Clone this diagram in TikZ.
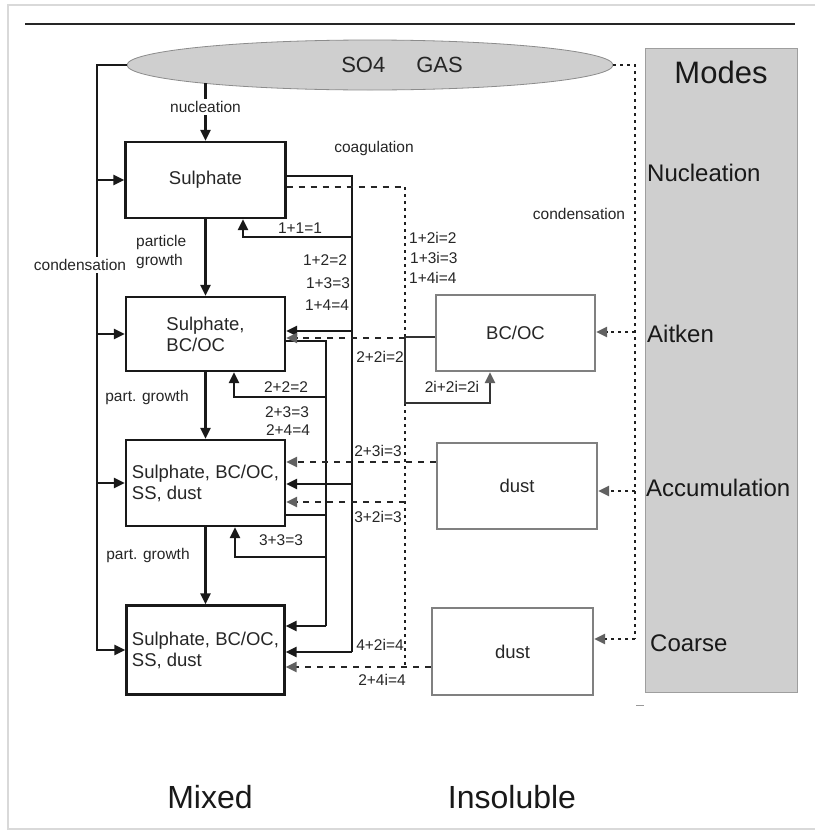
\documentclass[tikz,border=0pt]{standalone}
\usepackage{fontspec}
\setmainfont{Liberation Sans}
\usetikzlibrary{arrows.meta,shapes.geometric}
\begin{document}
\begin{tikzpicture}[x=1pt,y=-1pt,
  ln/.style={line width=2.2pt, draw=black!90},
  arr/.style={ln, -{Triangle[length=11pt,width=10pt]}},
  garr/.style={-{Triangle[length=11pt,width=10pt,color=black!62]}},
  dsh/.style={line width=2.2pt, draw=black!85, dash pattern=on 6pt off 6pt},
  dtt/.style={line width=2.4pt, draw=black!88, dash pattern=on 3pt off 4pt},
  mbox/.style={draw=black!90, line width=2.2pt, inner sep=0pt, align=left,
    font=\fontsize{18.5}{21}\selectfont, text=black!85},
  ibox/.style={draw=black!50, line width=2.2pt, inner sep=0pt, align=center,
    font=\fontsize{18.5}{21}\selectfont, text=black!85},
  lbl/.style={font=\fontsize{15.5}{17}\selectfont, inner sep=1pt, text=black!85},
  mode/.style={font=\fontsize{24}{26}\selectfont, anchor=west, inner sep=0pt, text=black!90},
  big/.style={font=\fontsize{32}{34}\selectfont, text=black!90}
]
\useasboundingbox (0,0) rectangle (815,830);
\fill[white] (0,0) rectangle (815,830);
% frame
\draw[black!15, line width=1.5pt] (815,5) -- (8,5) -- (8,829) -- (815,829);
\draw[black!85, line width=2.5pt] (25,24) -- (795,24);

% modes column
\node[draw=black!38, fill=black!19, line width=1pt, minimum width=152, minimum height=644, inner sep=0pt] (modes) at (721,370) {};
\node[font=\fontsize{31}{33}\selectfont, text=black!90] (modestxt) at (721,72) {Modes};
\node[mode] (mnuc) at (647,173) {Nucleation};
\node[mode] (mait) at (647,334) {Aitken};
\node[mode] (macc) at (646,488) {Accumulation};
\node[mode] (mcoa) at (650,643) {Coarse};
\draw[black!40, line width=1pt] (636,705) -- (644,705);

% gas
\node[ellipse, draw=black!45, fill=black!19, line width=0.8pt, minimum width=486, minimum height=50, inner sep=0pt] (gas) at (370,65) {};
\node[font=\fontsize{22}{24}\selectfont, text=black!85] (gastxt) at (402,65) {SO4\hspace{31pt}GAS};

% mixed boxes
\node[mbox, minimum width=160, minimum height=76] (b1) at (205.5,180) {Sulphate};
\node[mbox, minimum width=159, minimum height=74] (b2) at (205.5,334) {Sulphate,\\BC/OC};
\node[mbox, minimum width=159, minimum height=86] (b3) at (205.5,483) {Sulphate, BC/OC,\\SS, dust};
\node[mbox, minimum width=158, minimum height=89] (b4) at (205.5,650) {Sulphate, BC/OC,\\SS, dust};

% insoluble boxes
\node[ibox, minimum width=159, minimum height=76] (ib) at (515.5,333) {BC/OC};
\node[ibox, minimum width=160, minimum height=86] (id1) at (517,486) {dust};
\node[ibox, minimum width=161, minimum height=87] (id2) at (512.5,651.5) {dust};

% condensation (left)
\draw[arr] (gas.west) -| (b4.west -| 97,0) -- (b4.west);
\draw[arr] (b1.west -| 97,0) -- (b1.west);
\draw[arr] (b2.west -| 97,0) -- (b2.west);
\draw[arr] (b3.west -| 97,0) -- (b3.west);
\node[lbl, fill=white, inner sep=2pt] (cond1) at (80,265) {condensation};

% nucleation
\draw[arr] (b1.north |- 0,83) -- (b1.north);
\node[lbl, fill=white, inner sep=2pt] (nuc) at (b1.north |- 0,107) {nucleation};

% particle growth
\draw[arr] (b1.south) -- (b2.north);
\draw[arr] (b2.south) -- (b3.north);
\draw[arr] (b3.south) -- (b4.north);
\node[lbl, align=left, anchor=west, font=\fontsize{15.5}{19}\selectfont] (pg1) at (135,252) {particle\\growth};
\node[lbl] (pg2) at (147,397) {part. growth};
\node[lbl] (pg3) at (148,555) {part. growth};

% coagulation line A (from Sulphate)
\draw[ln] ([yshift=4pt]b1.east) -| (352,652);
\draw[arr] (352,237) -| (b1.south -| 243,0);
\draw[arr] (352,331) -- (b2.east |- 0,331);
\draw[arr] (352,484) -- (b3.east |- 0,484);
\draw[arr] (352,652) -- (b4.east |- 0,652);

% coagulation line B (from Sulphate, BC/OC)
\draw[ln] (b2.east |- 0,341) -| (326,626);
\draw[arr] (326,626) -- (b4.east |- 0,626);
\draw[arr] (326,397) -| (b2.south -| 234,0);
\draw[ln] (b3.east |- 0,515) -- (326,515);
\draw[arr] (326,557) -| (b3.south -| 235,0);

% insoluble coagulation
\draw[dsh] (b1.east |- 0,187) -- (405,187);
\draw[dtt] (405,187) -- (405,337);
\draw[dtt] (405,403) -- (405,667);
\draw[line width=2.2pt, draw=black!80, garr] (ib.west |- 0,337) -| (405,403) -| (ib.south -| 490,0);
\draw[dsh, garr] (405,338) -- (b2.east |- 0,338);
\draw[dsh, garr] (id1.west |- 0,462) -- (b3.east |- 0,462);
\draw[dsh, garr] (405,502) -- (b3.east |- 0,502);
\draw[dsh, garr] (id2.west |- 0,667) -- (b4.east |- 0,667);

% modes condensation (right)
\draw[dtt] (gas.east) -| (635,639);
\draw[dtt, garr] (635,332) -- (ib.east |- 0,332);
\draw[dtt, garr] (635,491) -- (id1.east |- 0,491);
\draw[dtt, garr] (635,639) -- (id2.east |- 0,639);
\node[lbl] (cond2) at (579,214) {condensation};

% labels
\node[lbl] (coag) at (374,148) {coagulation};
\node[lbl] (l11) at (300,228) {1+1=1};
\node[lbl] (l12) at (325,260) {1+2=2};
\node[lbl] (l13) at (328,283) {1+3=3};
\node[lbl] (l14) at (327,305) {1+4=4};
\node[lbl, anchor=west] (l12i) at (408,238) {1+2i=2};
\node[lbl, anchor=west] (l13i) at (409,258) {1+3i=3};
\node[lbl, anchor=west] (l14i) at (408,278) {1+4i=4};
\node[lbl] (l22) at (286,387) {2+2=2};
\node[lbl] (l23) at (287,412) {2+3=3};
\node[lbl] (l24) at (288,430) {2+4=4};
\node[lbl] (l22i) at (380,357) {2+2i=2};
\node[lbl] (l2i2i) at (452,387) {2i+2i=2i};
\node[lbl] (l23i) at (378,451) {2+3i=3};
\node[lbl] (l32i) at (378,517) {3+2i=3};
\node[lbl] (l33) at (281,540) {3+3=3};
\node[lbl] (l42i) at (380,645) {4+2i=4};
\node[lbl] (l24i) at (382,680) {2+4i=4};

% column titles
\node[big] (mixed) at (210,797) {Mixed};
\node[big] (insol) at (512,797) {Insoluble};
\end{tikzpicture}
\end{document}
